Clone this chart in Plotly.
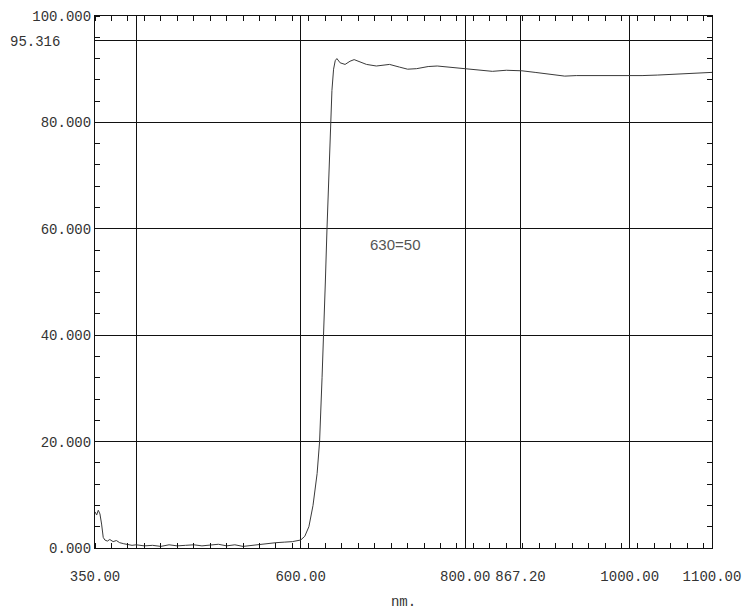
import plotly.graph_objects as go

wavelength = [350, 352, 354, 356, 358, 360, 362, 365, 368, 372, 376, 380, 385, 390, 395,
              400, 410, 420, 430, 440, 450, 460, 470, 480, 490, 500, 510, 520, 530, 540,
              550, 560, 570, 580, 590, 600, 605, 610, 615, 620, 623, 626, 628, 630, 632,
              634, 636, 638, 640, 642, 644, 648, 654, 660, 665, 671, 680, 692, 700, 708,
              720, 730, 741, 755, 766, 780, 800, 815, 833, 850, 869, 885, 897, 910, 921,
              935, 954, 975, 998, 1015, 1034, 1050, 1070, 1085, 1096, 1100]
transmittance = [6.8, 6.2, 7.1, 6.4, 4.5, 2.0, 1.5, 1.3, 1.6, 1.2, 1.4, 1.0, 0.8, 0.6, 0.5,
                 0.6, 0.4, 0.5, 0.3, 0.6, 0.4, 0.5, 0.6, 0.4, 0.5, 0.7, 0.4, 0.6, 0.3, 0.5,
                 0.6, 0.8, 1.0, 1.1, 1.2, 1.5, 2.2, 4.0, 8.0, 14.0, 20.0, 32.0, 40.0, 50.0, 60.0,
                 70.0, 80.0, 86.0, 90.0, 91.6, 92.0, 91.2, 90.9, 91.5, 91.8, 91.4, 90.9, 90.6, 90.8, 90.9,
                 90.4, 90.0, 90.1, 90.5, 90.6, 90.4, 90.2, 89.9, 89.6, 89.8, 89.7, 89.4, 89.2, 88.9, 88.7,
                 88.8, 88.8, 88.7, 88.8, 88.8, 88.9, 89.0, 89.1, 89.3, 89.4, 89.4]

x_tickvals = [350, 400, 600, 800, 867.2, 1000, 1100]
x_ticktext = ["350.00", "", "600.00", "800.00", "867.20", "1000.00", "1100.00"]
y_tickvals = [0, 20, 40, 60, 80, 95.316, 100]
y_ticktext = ["0.000", "20.000", "40.000", "60.000", "80.000", "", "100.000"]

fnt = "Liberation Mono"
tcol = "#333333"
lcol = "#111111"

fig = go.Figure()
fig.add_trace(go.Scatter(x=wavelength, y=transmittance, mode="lines",
                         line=dict(color="#3a3a3a", width=1), showlegend=False,
                         hoverinfo="skip"))
# invisible trace to carry the mirrored tick axes
fig.add_trace(go.Scatter(x=[350, 1100], y=[0, 100], xaxis="x2", yaxis="y2", mode="lines",
                         line=dict(width=0), opacity=0, showlegend=False, hoverinfo="skip"))

fig.add_annotation(x=715, y=57, text="630=50", showarrow=False,
                   font=dict(family="Liberation Sans Narrow, Liberation Sans", size=15, color="#555555"))
fig.add_annotation(x=0, xref="paper", xshift=-87, xanchor="left", y=95.316, yshift=-1,
                   text="95.316", showarrow=False,
                   font=dict(family=fnt, size=14, color=tcol))

common = dict(showline=True, linecolor=lcol, linewidth=1.2, mirror=True,
              ticks="", zeroline=False, automargin=False)

fig.update_layout(
    width=742, height=602, plot_bgcolor="white", paper_bgcolor="white",
    margin=dict(l=87, r=38, t=8, b=62),
    xaxis=dict(range=[350, 1100], tickvals=x_tickvals, ticktext=x_ticktext,
               showgrid=True, gridcolor=lcol, gridwidth=1.2,
               minor=dict(ticks="inside", dtick=20, tick0=350, ticklen=5,
                          tickcolor=lcol, showgrid=False),
               tickfont=dict(family=fnt, size=14, color=tcol),
               ticklabelstandoff=15,
               title=dict(text="nm.", font=dict(family=fnt, size=14, color=tcol), standoff=14),
               **common),
    yaxis=dict(range=[0, 100], tickvals=y_tickvals, ticktext=y_ticktext,
               showgrid=True, gridcolor=lcol, gridwidth=1.2,
               minor=dict(ticks="inside", dtick=4, tick0=0, ticklen=5,
                          tickcolor=lcol, showgrid=False),
               tickfont=dict(family=fnt, size=14, color=tcol),
               **common),
    xaxis2=dict(range=[350, 1100], overlaying="x", side="top", showticklabels=False,
                showgrid=False, tickvals=[],
                minor=dict(ticks="inside", dtick=20, tick0=350, ticklen=5, tickcolor=lcol),
                showline=False, zeroline=False, automargin=False),
    yaxis2=dict(range=[0, 100], overlaying="y", side="right", showticklabels=False,
                showgrid=False, tickvals=[],
                minor=dict(ticks="inside", dtick=4, tick0=0, ticklen=5, tickcolor=lcol),
                showline=False, zeroline=False, automargin=False),
)

fig.write_html("out.html")
